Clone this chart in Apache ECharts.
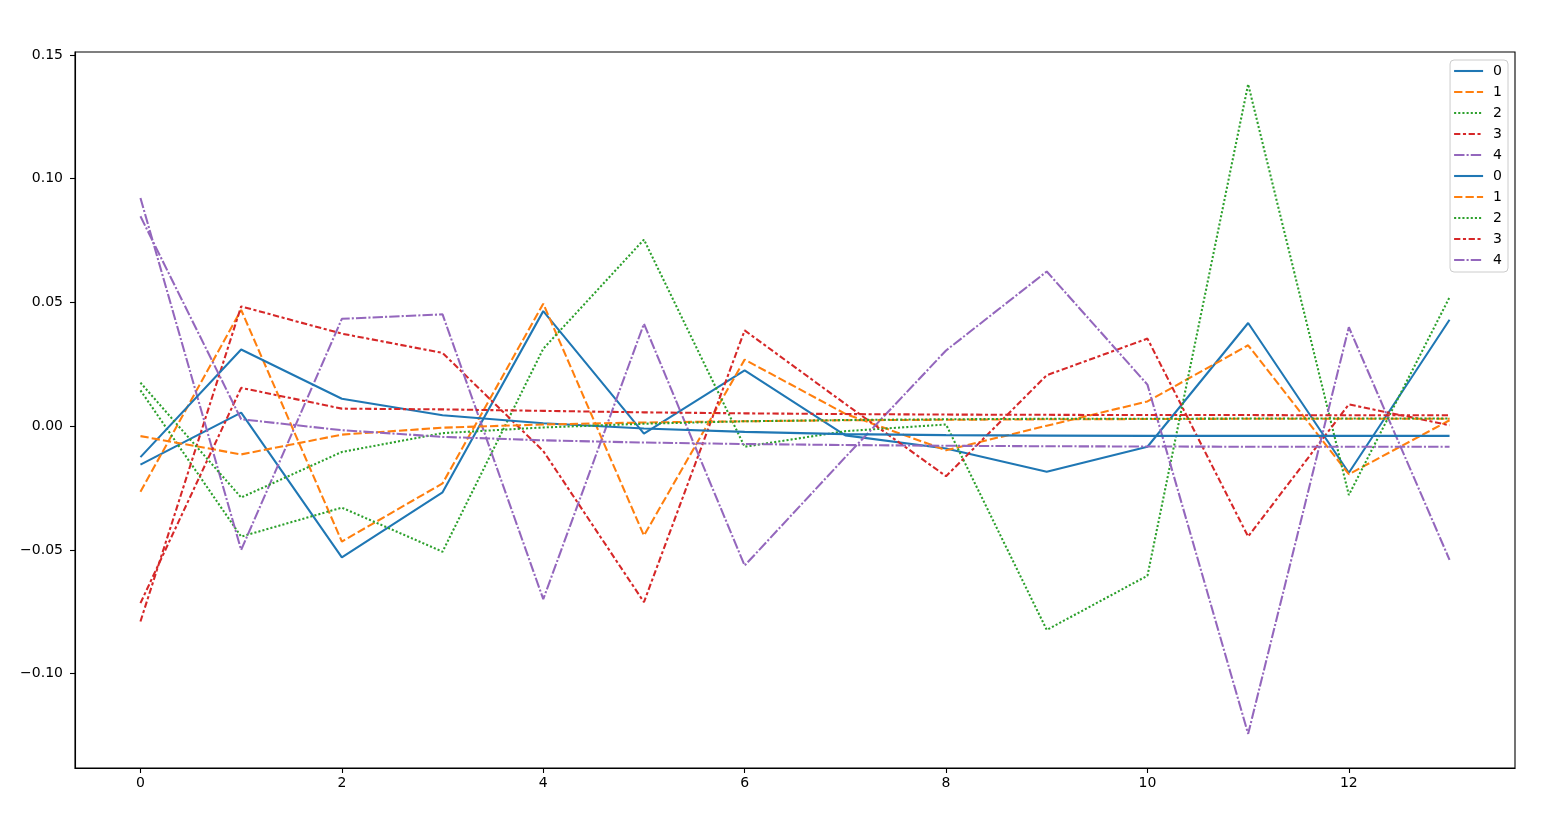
<!DOCTYPE html>
<html>
<head>
<meta charset="utf-8">
<script src="https://cdn.jsdelivr.net/npm/echarts@6/dist/echarts.min.js"></script>
<style>
html,body{margin:0;padding:0;background:#fff;}
#chart{width:1551px;height:829px;}
</style>
</head>
<body>
<div id="chart"></div>
<script>
// ---- data ----
const xs = [0,1,2,3,4,5,6,7,8,9,10,11,12,13];
const names = ["0","1","2","3","4"];
const xTicks = [0,2,4,6,8,10,12];
const yTicks = [-0.10,-0.05,0.00,0.05,0.10,0.15];

// first group (oscillating)
const a0 = [-0.0155, 0.0055, -0.053, -0.0267, 0.0465, -0.003, 0.0226, -0.0037, -0.009, -0.0184, -0.0083, 0.0417, -0.0188, 0.043];
const a1 = [-0.0265, 0.047, -0.0466, -0.0231, 0.0495, -0.0442, 0.0269, 0.005, -0.0097, 0.0002, 0.010, 0.0327, -0.0194, 0.0024];
const a2 = [0.0145, -0.0446, -0.0329, -0.0507, 0.0313, 0.0754, -0.0083, -0.002, 0.0007, -0.0823, -0.0604, 0.1382, -0.0278, 0.0521];
const a3 = [-0.0789, 0.0484, 0.0374, 0.0296, -0.010, -0.0711, 0.0387, 0.009, -0.0202, 0.0206, 0.0354, -0.0446, 0.0088, 0.0004];
const a4 = [0.0922, -0.050, 0.0434, 0.0452, -0.0699, 0.0414, -0.0563, -0.0125, 0.0306, 0.0625, 0.0168, -0.1243, 0.040, -0.054];

// second group (converging)
const b0 = [-0.0125, 0.031, 0.0111, 0.0044, 0.0012, -0.0009, -0.0023, -0.0032, -0.0036, -0.0038, -0.0039, -0.0039, -0.0039, -0.0039];
const b1 = [-0.004, -0.0114, -0.0034, -0.0006, 0.0007, 0.0015, 0.002, 0.0024, 0.0026, 0.0028, 0.0029, 0.003, 0.003, 0.003];
const b2 = [0.0176, -0.0288, -0.0104, -0.0028, -0.0005, 0.001, 0.002, 0.0025, 0.0028, 0.003, 0.003, 0.0031, 0.0031, 0.0031];
const b3 = [-0.0715, 0.0155, 0.0071, 0.0068, 0.0062, 0.0056, 0.0052, 0.0049, 0.0047, 0.0046, 0.0045, 0.0045, 0.0044, 0.0044];
const b4 = [0.0848, 0.0028, -0.0016, -0.0043, -0.0057, -0.0066, -0.0072, -0.0076, -0.0079, -0.0081, -0.0082, -0.0083, -0.0083, -0.0083];

// ---- styles ----
const colors = ['#1f77b4','#ff7f0e','#2ca02c','#d62728','#9467bd'];
const dashes = ['solid', [8.3,3.1], [2.08,2.08], [6.25,2.6,3.1,2.6], [10.4,2.08,2.08,2.08]];

const groups = [[a0,a1,a2,a3,a4],[b0,b1,b2,b3,b4]];
const series = [];
const legendData = [];
groups.forEach((g, gi) => {
  g.forEach((vals, i) => {
    const nm = names[i] + (gi === 1 ? ' ' : '');
    legendData.push(nm);
    series.push({
      type: 'line',
      name: nm,
      data: xs.map((x, k) => [x, vals[k]]),
      symbol: 'none',
      showSymbol: false,
      smooth: false,
      color: colors[i],
      lineStyle: {color: colors[i], width: 2.08, type: dashes[i], cap: 'butt'},
      emphasis: {disabled: true},
      z: 2 + gi
    });
  });
});

const fmtY = v => (v < 0 ? '\u2212' : '') + Math.abs(v).toFixed(2);
const font = 'DejaVu Sans';

const chart = echarts.init(document.getElementById('chart'), null, {renderer: 'canvas'});
chart.setOption({
  animation: false,
  backgroundColor: '#fff',
  grid: {left: 75, right: 36, top: 52, bottom: 61, show: true, borderColor: '#000', borderWidth: 1.1, containLabel: false},
  xAxis: {
    type: 'value', min: -0.65, max: 13.65,
    splitLine: {show: false},
    axisLine: {show: true, onZero: false, lineStyle: {color: '#000', width: 1.1}},
    axisTick: {show: true, length: 5, inside: false, lineStyle: {color: '#000', width: 1.1}, customValues: xTicks},
    axisLabel: {color: '#000', fontSize: 14, fontFamily: font, margin: 8, customValues: xTicks, formatter: v => String(v)}
  },
  yAxis: {
    type: 'value', min: -0.1381, max: 0.1512,
    splitLine: {show: false},
    axisLine: {show: true, onZero: false, lineStyle: {color: '#000', width: 1.1}},
    axisTick: {show: true, length: 5, inside: false, lineStyle: {color: '#000', width: 1.1}, customValues: yTicks},
    axisLabel: {color: '#000', fontSize: 14, fontFamily: font, margin: 12, customValues: yTicks, formatter: fmtY}
  },
  legend: {
    data: legendData,
    orient: 'vertical',
    right: 43,
    top: 60,
    padding: [4, 6, 5, 3],
    itemWidth: 29,
    itemHeight: 14,
    itemGap: 7,
    backgroundColor: 'rgba(255,255,255,0.8)',
    borderColor: '#cccccc',
    borderWidth: 1,
    borderRadius: 4,
    selectedMode: false,
    formatter: n => n.trim(),
    itemStyle: {opacity: 0, color: 'rgba(0,0,0,0)', borderWidth: 0},
    lineStyle: {width: 2.08},
    textStyle: {color: '#000', fontSize: 14, fontFamily: font, padding: [0,0,0,5], lineHeight: 14}
  },
  series: series
});
</script>
</body>
</html>
